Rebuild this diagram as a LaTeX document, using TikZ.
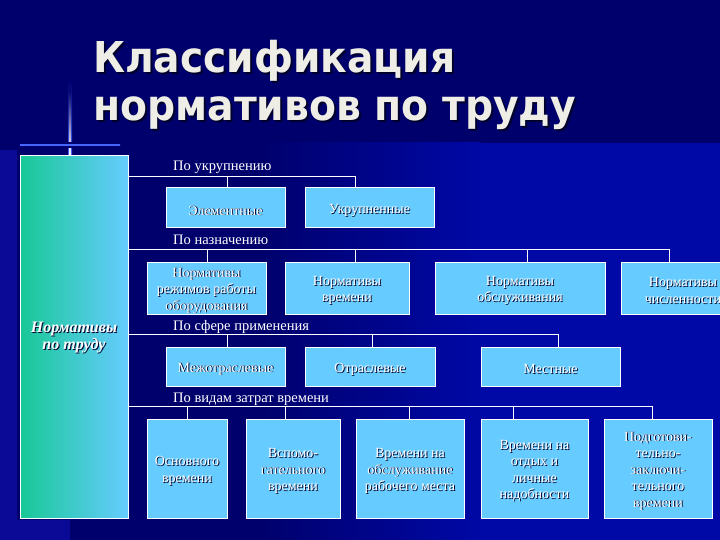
\documentclass[tikz,border=0pt]{standalone}
\usepackage{fontspec}
\usepackage{graphicx}
\setmainfont{Liberation Serif}
\newfontfamily\titlefont{DejaVu Sans}
\usetikzlibrary{calc}
\definecolor{navy}{RGB}{0,0,108}
\definecolor{brightbg}{RGB}{0,8,165}
\definecolor{leftstrip}{RGB}{10,10,150}
\definecolor{boxblue}{RGB}{102,204,255}
\definecolor{greenl}{RGB}{24,200,150}
\definecolor{tealm}{RGB}{84,200,212}
\definecolor{titlewhite}{RGB}{238,238,230}
\definecolor{shadowc}{RGB}{0,0,45}
\definecolor{glow}{RGB}{70,100,255}
\newcommand\ttl[2]{\resizebox{#2pt}{\height}{\titlefont\bfseries\fontsize{42.5}{48}\selectfont #1}}
\newcommand\bx[6]{%
  \node[boxst, minimum width={(#4)-(#2)}, minimum height={(#5)-(#3)}] (#1) at ({(#2+#4)/2},{(#3+#5)/2}) {};
  \node[bshadow] (#1s) at ([shift={(0.9,3.4)}]#1.center) {#6};
  \node[btext] (#1t) at ([shift={(0,2.5)}]#1.center) {#6};}
\begin{document}
\begin{tikzpicture}[x=1pt,y=-1pt,
  boxst/.style={draw=white, line width=1pt, fill=boxblue, inner sep=0pt},
  btext/.style={align=center, font=\fontsize{14}{16.5}\selectfont, text=white, inner sep=0pt},
  bshadow/.style={btext, text=shadowc},
  lab/.style={anchor=base west, font=\fontsize{14.5}{17}\selectfont, text=white, inner sep=0pt},
  bus/.style={draw=white, line width=0.9pt}]
\clip (0,0) rectangle (720,540);
\useasboundingbox (0,0) rectangle (720,540);
% background
\fill[navy] (0,0) rectangle (720,540);
\shade[left color=navy, right color=brightbg] (260,143) rectangle (480,540);
\fill[brightbg] (480,143) rectangle (720,540);
\fill[leftstrip] (0,150) rectangle (17,540);
\fill[leftstrip] (0,520) rectangle (70,540);
% crosshair decoration
\shade[top color=navy, bottom color=glow] (68,80) rectangle (72,156);
\shade[top color=navy, bottom color=white] (69.4,90) rectangle (70.6,156);
\shade[left color=navy, middle color=glow, right color=navy] (0,142.5) rectangle (140,147.5);
\shade[left color=glow, middle color=white, right color=glow] (20,144.3) rectangle (120,145.7);
% title
\node[anchor=base west, inner sep=0pt, text=shadowc] at (95,75) {\ttl{Классификация}{362}};
\node[anchor=base west, inner sep=0pt, text=titlewhite] (title1) at (93,73) {\ttl{Классификация}{362}};
\node[anchor=base west, inner sep=0pt, text=shadowc] at (95,123) {\ttl{нормативов по труду}{483}};
\node[anchor=base west, inner sep=0pt, text=titlewhite] (title2) at (93,121) {\ttl{нормативов по труду}{483}};
% root box
\node[draw=white, line width=1pt, left color=greenl, middle color=tealm, right color=boxblue,
      minimum width=108pt, minimum height=362pt, inner sep=0pt] (root) at (74,337) {};
\node[align=center, inner sep=0pt, text=shadowc, font=\fontsize{16}{17}\selectfont\bfseries\itshape] at (75,338.5) {Нормативы\\по труду};
\node[align=center, inner sep=0pt, text=white, font=\fontsize{16}{17}\selectfont\bfseries\itshape] (roott) at (74,337.5) {Нормативы\\по труду};
% labels
\node[lab] (l1) at (173,171) {По укрупнению};
\node[lab] (l2) at (173,244) {По назначению};
\node[lab] (l3) at (173,330) {По сфере применения};
\node[lab] (l4) at (173,402) {По видам затрат времени};
% boxes
\bx{u1}{166}{188}{285}{228}{Элементные}
\bx{u2}{305}{188}{434}{228}{Укрупненные}
\bx{n1}{147}{262}{266}{314}{Нормативы\\режимов работы\\оборудования}
\bx{n2}{285}{262}{409}{314}{Нормативы\\времени}
\bx{n3}{435}{262}{605}{314}{Нормативы\\обслуживания}
\bx{n4}{621}{262}{745}{314}{Нормативы\\численности}
\bx{s1}{166}{347}{285}{386}{Межотраслевые}
\bx{s2}{305}{347}{435}{386}{Отраслевые}
\bx{s3}{481}{347}{620}{386}{Местные}
\bx{v1}{147}{419}{227}{518}{Основного\\времени}
\bx{v2}{246}{419}{340}{518}{Вспомо-\\гательного\\времени}
\bx{v3}{356}{419}{464}{518}{Времени на\\обслуживание\\рабочего места}
\bx{v4}{481}{419}{588}{518}{Времени на\\отдых и\\личные\\надобности}
\bx{v5}{604}{419}{712}{518}{Подготови-\\тельно-\\заключи-\\тельного\\времени}
% bus 1
\coordinate (b1a) at (227,176);
\coordinate (b1b) at (355,176);
\draw[bus] (root.east |- b1a) -- (b1b);
\draw[bus] (b1a) -- (b1a |- u1.north);
\draw[bus] (b1b) -- (b1b |- u2.north);
% bus 2
\coordinate (b2a) at (207,249);
\coordinate (b2b) at (355,249);
\coordinate (b2c) at (527,249);
\coordinate (b2d) at (669,249);
\draw[bus] (root.east |- b2a) -- (b2d);
\draw[bus] (b2a) -- (b2a |- n1.north);
\draw[bus] (b2b) -- (b2b |- n2.north);
\draw[bus] (b2c) -- (b2c |- n3.north);
\draw[bus] (b2d) -- (b2d |- n4.north);
% bus 3
\coordinate (b3a) at (227,334);
\coordinate (b3b) at (372,334);
\coordinate (b3c) at (558,334);
\draw[bus] (root.east |- b3a) -- (b3c);
\draw[bus] (b3a) -- (b3a |- s1.north);
\draw[bus] (b3b) -- (b3b |- s2.north);
\draw[bus] (b3c) -- (b3c |- s3.north);
% bus 4
\coordinate (b4a) at (187,406);
\coordinate (b4b) at (285,406);
\coordinate (b4c) at (409,406);
\coordinate (b4d) at (513,406);
\coordinate (b4e) at (652,406);
\draw[bus] (root.east |- b4a) -- (b4e);
\draw[bus] (b4a) -- (b4a |- v1.north);
\draw[bus] (b4b) -- (b4b |- v2.north);
\draw[bus] (b4c) -- (b4c |- v3.north);
\draw[bus] (b4d) -- (b4d |- v4.north);
\draw[bus] (b4e) -- (b4e |- v5.north);
\end{tikzpicture}
\end{document}
